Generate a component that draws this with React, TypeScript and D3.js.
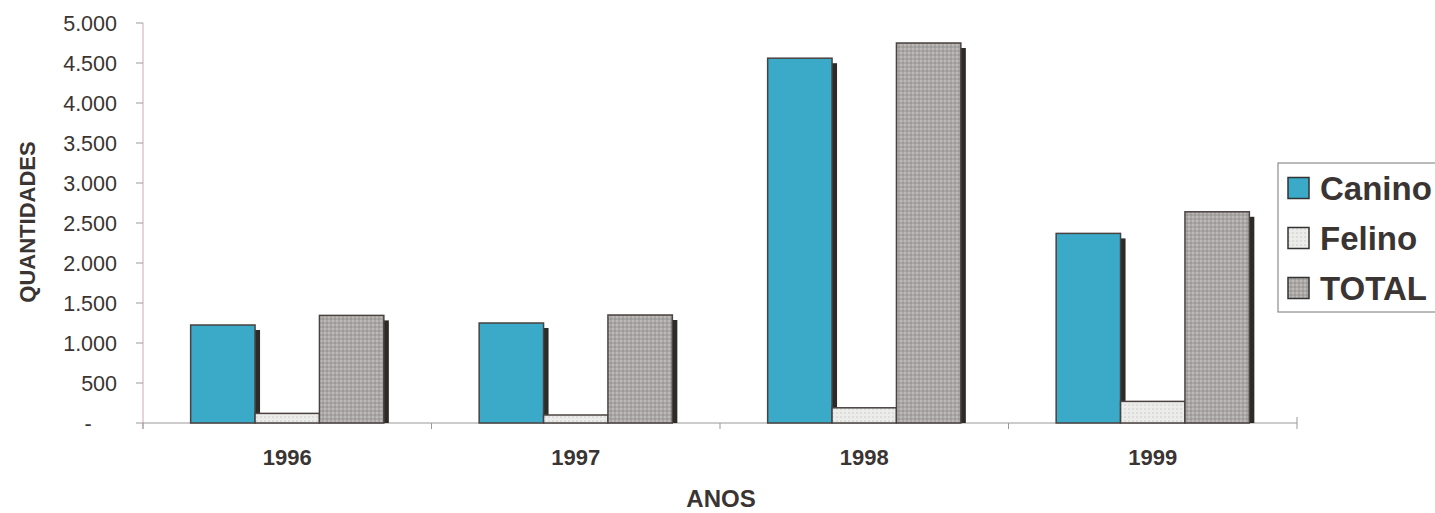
import React from "react";
import * as d3 from "d3";

const years = ["1996", "1997", "1998", "1999"];
const seriesNames = ["Canino", "Felino", "TOTAL"];
const canino = [1225, 1250, 4560, 2370];
const felino = [120, 100, 190, 270];
const total = [1345, 1350, 4750, 2640];
const yTicks = [0, 500, 1000, 1500, 2000, 2500, 3000, 3500, 4000, 4500, 5000];

const seriesValues = [canino, felino, total];
const colors = ["#3aaac8", "#ececea", "#aaa7a5"];

const W = 1435;
const H = 513;
const FONT = "Arial, 'Liberation Sans', Helvetica, sans-serif";

const locale = d3.formatLocale({ decimal: ",", thousands: ".", grouping: [3], currency: ["R$", ""] });
const fmt = locale.format(",d");

export default function App() {
  const x0 = d3.scaleBand<string>().domain(years).range([143, 1297]).paddingInner(0).paddingOuter(0);
  const x1 = d3.scaleBand<string>().domain(seriesNames).range([0, x0.bandwidth()]).paddingInner(0).paddingOuter(0.74);
  const y = d3.scaleLinear().domain([0, 5000]).range([423, 23]);
  const sh = 5;

  return (
    <svg width={W} height={H} style={{ position: "absolute", left: 0, top: 0, background: "#fff" }}>
      <defs>
        <pattern id="totPat" width="4" height="4" patternUnits="userSpaceOnUse">
          <rect width="4" height="4" fill={colors[2]} />
          <rect width="2" height="2" fill="#bcbab8" />
          <rect x="2" y="2" width="2" height="2" fill="#9c9a98" />
        </pattern>
        <pattern id="felPat" width="4" height="4" patternUnits="userSpaceOnUse">
          <rect width="4" height="4" fill={colors[1]} />
          <rect width="2" height="2" fill="#dcdcda" />
        </pattern>
      </defs>
      {/* y axis */}
      <line x1={143} x2={143} y1={y(5000)} y2={y(0) + 6} stroke="#d6a6b6" strokeWidth={1} />
      {yTicks.map((t) => (
        <g key={t}>
          <line x1={136} x2={143} y1={y(t)} y2={y(t)} stroke="#999" />
          <text x={t === 0 ? 88 : 117} y={y(t)} dy="0.35em" textAnchor={t === 0 ? "middle" : "end"} fontFamily={FONT} fontSize={21.5} fill="#3a3433">
            {t === 0 ? "-" : fmt(t)}
          </text>
        </g>
      ))}
      {/* x axis */}
      <line x1={143} x2={1297} y1={y(0)} y2={y(0)} stroke="#999" />
      {years.map((yr) => (
        <line key={"t" + yr} x1={x0(yr)!} x2={x0(yr)!} y1={y(0)} y2={y(0) + 6} stroke="#999" />
      ))}
      <line x1={1297} x2={1297} y1={y(0) - 6} y2={y(0) + 6} stroke="#999" />
      {/* bars */}
      {years.map((yr, i) => (
        <g key={yr}>
          {seriesNames.map((s, j) => {
            const v = seriesValues[j][i];
            const bx = x0(yr)! + x1(s)!;
            const bw = x1.bandwidth();
            const by = y(v);
            const bh = y(0) - by;
            const fill = j === 2 ? "url(#totPat)" : j === 1 ? "url(#felPat)" : colors[0];
            return (
              <g key={s}>
                <rect x={bx + sh} y={by + sh} width={bw} height={Math.max(0, bh - sh)} fill="#2e2a28" />
                <rect x={bx} y={by} width={bw} height={bh} fill={fill} stroke="#4a4240" strokeWidth={1.5} />
              </g>
            );
          })}
          <text x={x0(yr)! + x0.bandwidth() / 2} y={465} textAnchor="middle" fontFamily={FONT} fontSize={22} fontWeight="bold" fill="#3a3433">
            {yr}
          </text>
        </g>
      ))}
      {/* axis titles */}
      <text x={721} y={507} textAnchor="middle" fontFamily={FONT} fontSize={24} fontWeight="bold" fill="#3a3433">ANOS</text>
      <text transform="translate(35,222) rotate(-90)" textAnchor="middle" fontFamily={FONT} fontSize={22} fontWeight="bold" fill="#3a3433">QUANTIDADES</text>
      {/* legend */}
      <rect x={1278} y={163} width={200} height={149} fill="#fff" stroke="#777" strokeWidth={1} />
      {seriesNames.map((s, j) => {
        const ly = 188 + j * 50;
        const fill = j === 2 ? "url(#totPat)" : j === 1 ? "url(#felPat)" : colors[0];
        return (
          <g key={"l" + s}>
            <rect x={1288} y={ly - 10.5} width={21} height={21} fill={fill} stroke="#333" strokeWidth={1.5} />
            <text x={1320} y={ly} dy="0.36em" fontFamily={FONT} fontSize={33} fontWeight="bold" fill="#3a3433">{s}</text>
          </g>
        );
      })}
    </svg>
  );
}
